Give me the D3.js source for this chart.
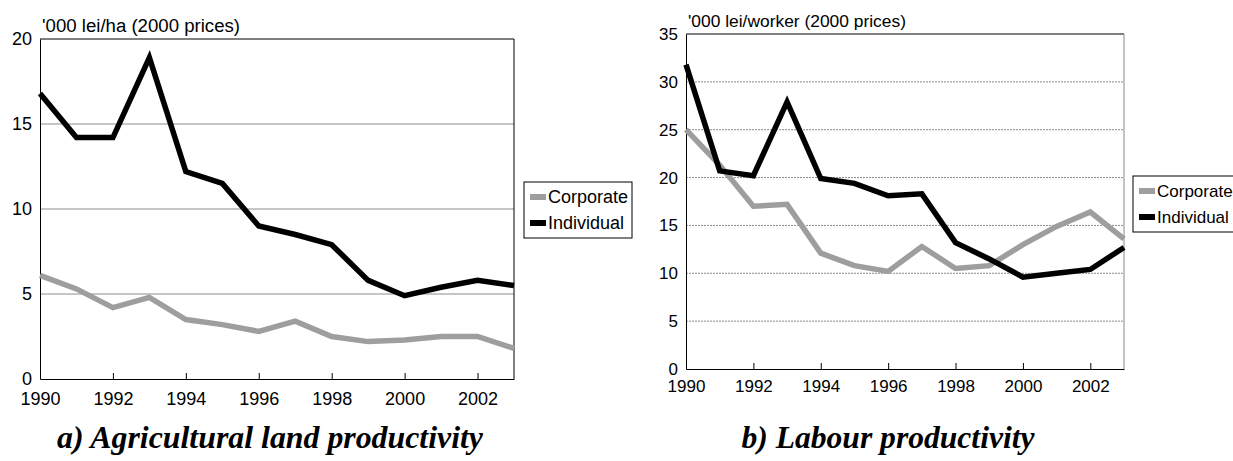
<!DOCTYPE html>
<html>
<head>
<meta charset="utf-8">
<script src="https://cdn.jsdelivr.net/npm/d3@7"></script>
<style>
  body { margin: 0; background: #fff; }
  svg text { font-family: "Liberation Sans", Arial, sans-serif; fill: #000; }
  svg text.title { font-family: "Times New Roman", "Liberation Serif", Tinos, serif; font-weight: 700; font-style: italic; }
</style>
</head>
<body>
<div id="container"></div>
<script>
// data
const years = [1990, 1991, 1992, 1993, 1994, 1995, 1996, 1997, 1998, 1999, 2000, 2001, 2002, 2003];
const landCorporate = [6.1, 5.3, 4.2, 4.8, 3.5, 3.2, 2.8, 3.4, 2.5, 2.2, 2.3, 2.5, 2.5, 1.8];
const landIndividual = [16.8, 14.2, 14.2, 18.9, 12.2, 11.5, 9.0, 8.5, 7.9, 5.8, 4.9, 5.4, 5.8, 5.5];
const labourCorporate = [25.0, 21.3, 17.0, 17.2, 12.1, 10.8, 10.2, 12.8, 10.5, 10.8, 13.0, 14.9, 16.4, 13.6];
const labourIndividual = [31.8, 20.7, 20.2, 27.9, 19.9, 19.4, 18.1, 18.3, 13.2, 11.5, 9.6, 10.0, 10.4, 12.7];
const seriesNames = ["Corporate", "Individual"];
const seriesColors = ["#9e9e9e", "#000000"];
const xTicks = [1990, 1992, 1994, 1996, 1998, 2000, 2002];
const landTicks = [0, 5, 10, 15, 20];
const labourTicks = [0, 5, 10, 15, 20, 25, 30, 35];
const landUnit = "'000 lei/ha (2000 prices)";
const labourUnit = "'000 lei/worker (2000 prices)";
const landTitle = "a) Agricultural land productivity";
const labourTitle = "b) Labour productivity";

const svg = d3.select("#container").append("svg")
  .attr("width", 1233).attr("height", 461);

function drawPanel(p) {
  const g = svg.append("g");
  const x = d3.scaleLinear().domain([1990, 2003]).range([p.left, p.right]);
  const y = d3.scaleLinear().domain([0, d3.max(p.yTicks)]).range([p.bottom, p.top]);

  // gridlines
  g.append("g").selectAll("line").data(p.yTicks.filter(t => t > 0 && t < d3.max(p.yTicks)))
    .enter().append("line")
    .attr("x1", p.left).attr("x2", p.right)
    .attr("y1", d => y(d)).attr("y2", d => y(d))
    .attr("stroke", "#8c8c8c").attr("stroke-width", 1)
    .attr("stroke-dasharray", p.dotted ? "2,1" : null);

  // frame: top and right
  g.append("line").attr("x1", p.left).attr("x2", p.right).attr("y1", p.top).attr("y2", p.top)
    .attr("stroke", "#000");
  g.append("line").attr("x1", p.right).attr("x2", p.right).attr("y1", p.top).attr("y2", p.bottom)
    .attr("stroke", p.rightColor);

  // y axis
  const yAxis = d3.axisLeft(y).tickValues(p.yTicks).tickSize(0).tickPadding(8);
  const ya = g.append("g").attr("transform", `translate(${p.left},0)`).call(yAxis)
    .attr("font-family", null).attr("font-size", null);
  ya.select(".domain").attr("stroke", "#000");
  ya.selectAll("text").style("font-size", p.fs + "px");

  // x axis, ticks pointing up
  const xAxis = d3.axisBottom(x).tickValues(xTicks).tickFormat(d3.format("d"))
    .tickSizeInner(-6).tickSizeOuter(0).tickPadding(p.xPad);
  const xa = g.append("g").attr("transform", `translate(0,${p.bottom})`).call(xAxis)
    .attr("font-family", null).attr("font-size", null);
  xa.select(".domain").attr("stroke", "#000");
  xa.selectAll(".tick line").attr("stroke", "#000");
  xa.selectAll("text").style("font-size", p.fs + "px");

  // lines
  const line = d3.line().x((d, i) => x(years[i])).y(d => y(d));
  p.series.forEach((s, i) => {
    g.append("path").datum(s)
      .attr("d", line)
      .attr("fill", "none")
      .attr("stroke", seriesColors[i])
      .attr("stroke-width", 5.5)
      .attr("stroke-linejoin", "miter")
      .attr("stroke-miterlimit", 3);
  });

  // unit label
  g.append("text").attr("x", p.left + 2).attr("y", p.top - 7)
    .attr("textLength", p.unitW).attr("lengthAdjust", "spacingAndGlyphs")
    .style("font-size", p.fs + "px").text(p.unit);

  // legend
  const lg = g.append("g").attr("transform", `translate(${p.legX},${p.legY})`);
  lg.append("rect").attr("width", p.legW).attr("height", 56)
    .attr("fill", "#fff").attr("stroke", "#000");
  seriesNames.forEach((n, i) => {
    const row = lg.append("g").attr("transform", `translate(6,${15 + i * 26})`);
    row.append("rect").attr("x", 0).attr("y", -3).attr("width", 16).attr("height", 6)
      .attr("fill", seriesColors[i]);
    row.append("text").attr("x", 18).attr("y", 0).attr("dy", "0.35em")
      .style("font-size", p.fs + "px").text(n);
  });

  // caption
  g.append("text").attr("class", "title")
    .attr("x", p.titleX).attr("y", 448).attr("text-anchor", "middle")
    .attr("textLength", p.titleW).attr("lengthAdjust", "spacingAndGlyphs")
    .style("font-size", "32px").text(p.title);
}

drawPanel({
  left: 40, right: 514, top: 39, bottom: 379,
  yTicks: landTicks, series: [landCorporate, landIndividual],
  unit: landUnit, unitW: 198, title: landTitle, titleX: 270, titleW: 426,
  legX: 524, legY: 182, legW: 108, fs: 18, xPad: 13,
  dotted: false, rightColor: "#000"
});

drawPanel({
  left: 686, right: 1124, top: 34, bottom: 369,
  yTicks: labourTicks, series: [labourCorporate, labourIndividual],
  unit: labourUnit, unitW: 218, title: labourTitle, titleX: 888, titleW: 293,
  legX: 1133, legY: 176, legW: 110, fs: 17, xPad: 11,
  dotted: true, rightColor: "#888"
});
</script>
</body>
</html>
